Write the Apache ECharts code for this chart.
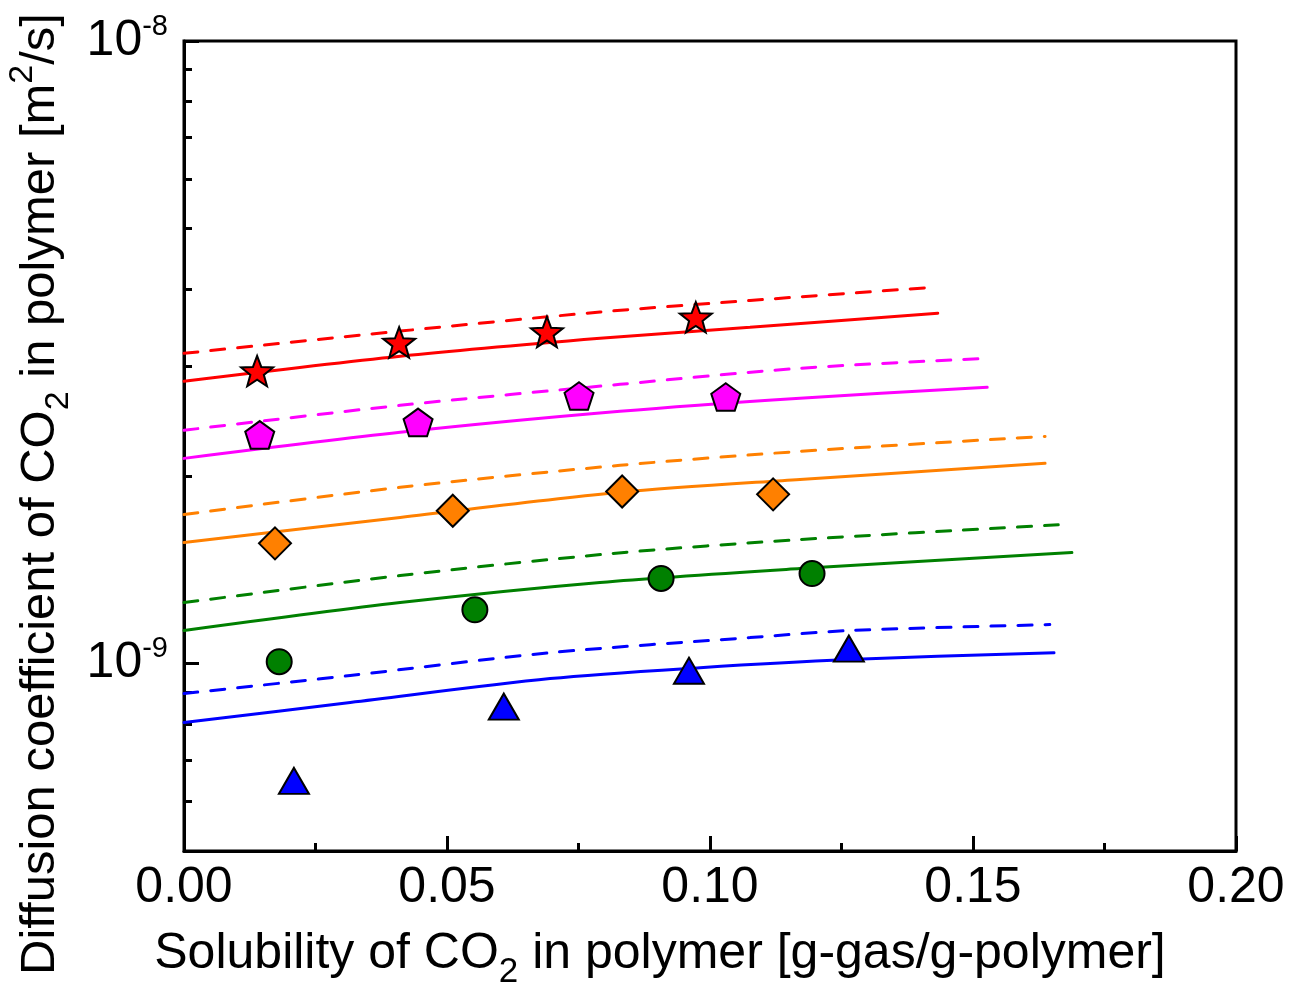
<!DOCTYPE html>
<html>
<head>
<meta charset="UTF-8">
<title>Diffusion vs solubility of CO2</title>
<script src="https://cdn.jsdelivr.net/npm/echarts@6/dist/echarts.min.js"></script>
</head>
<body style="margin:0">
<div id="main" style="width:1298px;height:985px"></div>
<script>
// measured points: solubility [g-gas/g-polymer], D in units of 1e-9 m2/s
var starX = [0.0139, 0.0409, 0.0690, 0.0973];
var starD = [2.95, 3.28, 3.41, 3.60];
var pentX = [0.0144, 0.0445, 0.0751, 0.1030];
var pentD = [2.33, 2.44, 2.69, 2.68];
var diamX = [0.0173, 0.0511, 0.0833, 0.1120];
var diamD = [1.56, 1.76, 1.89, 1.87];
var circX = [0.0181, 0.0553, 0.0907, 0.1194];
var circD = [1.007, 1.22, 1.37, 1.395];
var triX = [0.0209, 0.0608, 0.0960, 0.1264];
var triD = [0.648, 0.853, 0.974, 1.057];

// model curves (solid / dashed)
var redX = [0, 0.0411, 0.0791, 0.1076, 0.1433];
var redSolid = [2.841, 3.116, 3.330, 3.469, 3.654];
var redDashX = [0, 0.0411, 0.0791, 0.1076, 0.1422];
var redDash = [3.15, 3.42, 3.67, 3.83, 4.02];

var magX = [0, 0.0411, 0.0829, 0.1171, 0.1527];
var magSolid = [2.136, 2.352, 2.542, 2.668, 2.778];
var magDash = [2.370, 2.599, 2.809, 2.981, 3.093];

var oraX = [0, 0.0411, 0.0829, 0.1171, 0.1637];
var oraSolid = [1.565, 1.717, 1.884, 1.976, 2.097];
var oraDash = [1.736, 1.919, 2.082, 2.192, 2.317];

var grnX = [0, 0.0411, 0.0791, 0.1171, 0.1688];
var grnSolid = [1.130, 1.253, 1.350, 1.421, 1.508];
var grnDashX = [0, 0.0411, 0.0816, 0.1171, 0.1677];
var grnDash = [1.253, 1.385, 1.503, 1.582, 1.673];

var bluX = [0, 0.0316, 0.0696, 0.0981, 0.1264, 0.1654];
var bluSolid = [0.804, 0.866, 0.946, 0.985, 1.015, 1.041];
var bluDashX = [0, 0.0316, 0.0696, 0.1076, 0.1266, 0.1646];
var bluDash = [0.895, 0.957, 1.041, 1.101, 1.130, 1.155];

// axis ticks
var xTickLabels = [0, 0.05, 0.10, 0.15, 0.20];
var yMajorTicks = [1e-9, 1e-8];
var yMinorTicks = [6e-10, 7e-10, 8e-10, 9e-10, 2e-9, 3e-9, 4e-9, 5e-9, 6e-9, 7e-9, 8e-9, 9e-9];
var yMin = 5e-10, yMax = 1e-8;

var FONT = 'Liberation Sans';
var starPath = 'path://M0,-1 L0.247,-0.34 L0.951,-0.309 L0.399,0.13 L0.588,0.809 L0,0.42 L-0.588,0.809 L-0.399,0.13 L-0.951,-0.309 L-0.247,-0.34 Z';
var pentPath = 'path://M0,-1 L0.951,-0.309 L0.588,0.809 L-0.588,0.809 L-0.951,-0.309 Z';

function pts(xs, ds) {
    return xs.map(function (x, i) { return [x, ds[i] * 1e-9]; });
}

function curve(xs, ds, color, dashed) {
    return {
        type: 'line',
        data: pts(xs, ds),
        showSymbol: false,
        smooth: 0.3,
        silent: true,
        z: 2,
        lineStyle: { color: color, width: 3, type: dashed ? [14, 13] : 'solid', cap: 'round' }
    };
}

function marks(xs, ds, symbol, size, color) {
    return {
        type: 'scatter',
        data: pts(xs, ds),
        symbol: symbol,
        symbolSize: size,
        symbolKeepAspect: true,
        z: 5,
        itemStyle: { color: color, borderColor: '#000', borderWidth: 2, opacity: 1 }
    };
}

// tick-only axis in log10 space (ticks drawn by ECharts on a plain value axis)
function tickAxis(values, len) {
    return {
        type: 'value', position: 'left',
        min: Math.log10(yMin), max: Math.log10(yMax),
        axisLine: { show: false },
        axisTick: { show: true, inside: true, length: len, customValues: values.map(Math.log10), lineStyle: axisLineStyle },
        axisLabel: { show: false },
        splitLine: { show: false }
    };
}

var axisLineStyle = { color: '#000', width: 3 };

var chart = echarts.init(document.getElementById('main'));
chart.setOption({
    animation: false,
    backgroundColor: '#fff',
    grid: {
        left: 184, right: 62, top: 41, bottom: 134,
        outerBoundsMode: 'none', containLabel: false,
        show: true, borderColor: '#000', borderWidth: 3
    },
    xAxis: {
        type: 'value', min: 0, max: 0.2, interval: 0.05,
        axisLine: { show: true, onZero: false, lineStyle: axisLineStyle },
        axisTick: { show: true, inside: true, length: 15, lineStyle: axisLineStyle },
        minorTick: { show: true, splitNumber: 2, length: 8, lineStyle: axisLineStyle },
        splitLine: { show: false },
        axisLabel: {
            color: '#000', fontSize: 50, fontFamily: FONT, margin: 12,
            customValues: xTickLabels,
            formatter: function (v) { return v.toFixed(2); }
        },
        name: 'Solubility of CO{sub|2} in polymer [g-gas/g-polymer]',
        nameLocation: 'middle',
        nameGap: 66,
        nameTextStyle: {
            color: '#000', fontSize: 50, fontFamily: FONT, lineHeight: 72,
            padding: [0, 100, 0, 0],
            rich: { sub: { fontSize: 35, lineHeight: 35, verticalAlign: 'bottom', fontFamily: FONT, color: '#000' } }
        }
    },
    yAxis: [{
        type: 'log', logBase: 10, min: yMin, max: yMax,
        axisLine: { show: true, lineStyle: axisLineStyle },
        axisTick: { show: false },
        splitLine: { show: false },
        axisLabel: {
            margin: 16, color: '#000', fontSize: 50, fontFamily: FONT, lineHeight: 58,
            customValues: yMajorTicks,
            formatter: function (v) { return '10{sup|' + Math.round(Math.log10(v)) + '}'; },
            rich: { sup: { fontSize: 29, lineHeight: 29, verticalAlign: 'top', fontFamily: FONT, color: '#000' } }
        },
        name: 'Diffusion coefficient of CO{sub|2} in polymer [m{sup|2}/s]',
        nameLocation: 'middle',
        nameGap: 104,
        nameTextStyle: {
            color: '#000', fontSize: 49, fontFamily: FONT, lineHeight: 70,
            padding: [0, 96, 0, 0],
            rich: {
                sub: { fontSize: 34, lineHeight: 34, verticalAlign: 'bottom', fontFamily: FONT, color: '#000' },
                sup: { fontSize: 34, lineHeight: 34, verticalAlign: 'top', fontFamily: FONT, color: '#000' }
            }
        }
    }, tickAxis(yMinorTicks, 8), tickAxis(yMajorTicks, 15)],
    series: [
        curve(redX, redSolid, '#ff0000', false),
        curve(redDashX, redDash, '#ff0000', true),
        curve(magX, magSolid, '#ff00ff', false),
        curve(magX, magDash, '#ff00ff', true),
        curve(oraX, oraSolid, '#ff8000', false),
        curve(oraX, oraDash, '#ff8000', true),
        curve(grnX, grnSolid, '#008000', false),
        curve(grnDashX, grnDash, '#008000', true),
        curve(bluX, bluSolid, '#0000ff', false),
        curve(bluDashX, bluDash, '#0000ff', true),
        marks(starX, starD, starPath, 32, '#ff0000'),
        marks(pentX, pentD, pentPath, 29, '#ff00ff'),
        marks(diamX, diamD, 'diamond', 32, '#ff8000'),
        marks(circX, circD, 'circle', 25, '#008000'),
        marks(triX, triD, 'triangle', [30, 26], '#0000ff')
    ]
});
</script>
</body>
</html>
